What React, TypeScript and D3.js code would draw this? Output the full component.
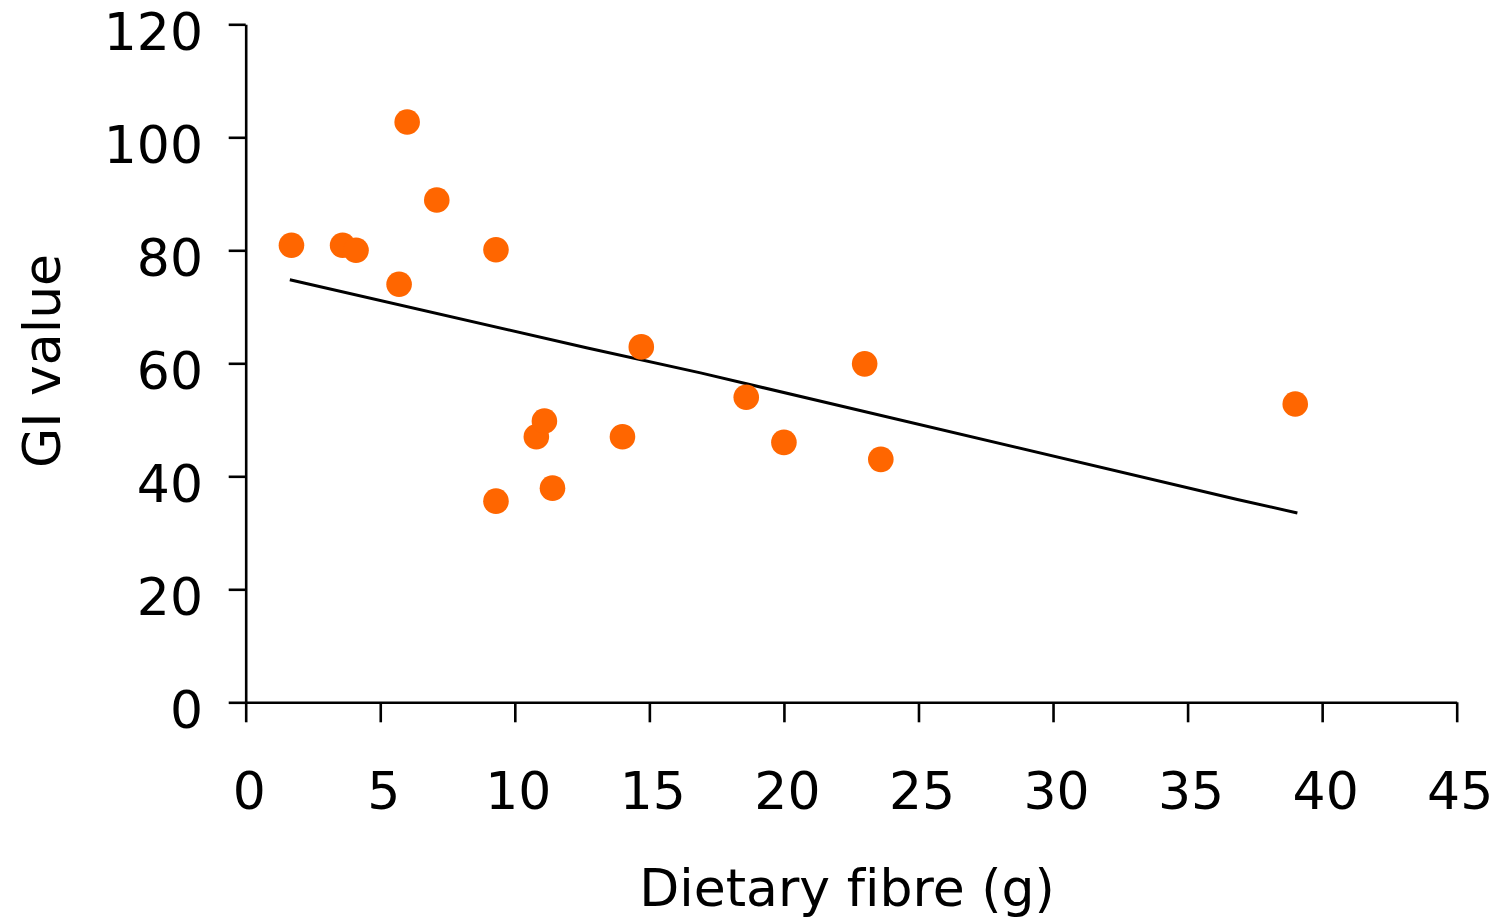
import { useEffect, useRef } from "react";
import * as d3 from "d3";

// fibre (g) per food and its GI value
const fibre = [1.7, 3.6, 4.1, 5.7, 6.0, 7.1, 9.3, 9.3, 10.8, 11.1, 11.4, 14.0, 14.7, 18.6, 20.0, 23.0, 23.6, 39.0];
const giValue = [80.9, 80.9, 80.0, 74.0, 102.7, 88.9, 80.1, 35.6, 47.0, 49.8, 37.9, 47.0, 62.9, 54.0, 46.0, 59.9, 43.0, 52.8];

// fitted line as drawn (polyline)
const trendX = [1.64, 12.7, 16.9, 36.85, 39.08];
const trendY = [74.8, 62.7, 58.3, 35.9, 33.5];

const xTicks = [0, 5, 10, 15, 20, 25, 30, 35, 40, 45];
const yTicks = [0, 20, 40, 60, 80, 100, 120];

const FONT = "Verdana, 'DejaVu Sans', sans-serif";

const App = () => {
  const svgRef = useRef<SVGSVGElement>(null);

  useEffect(() => {
    const svg = d3.select(svgRef.current);
    const width = 1499;
    const height = 917;
    const left = 245.7;
    const right = 1456.7;
    const top = 24.3;
    const bottom = 702.3;

    svg.selectAll("*").remove();
    svg.attr("width", width).attr("height", height);

    const x = d3.scaleLinear().domain([0, 45]).range([left, right]);
    const y = d3.scaleLinear().domain([0, 120]).range([bottom, top]);

    // Eixo X
    const gx = svg
      .append("g")
      .attr("transform", `translate(0,${bottom})`)
      .call(d3.axisBottom(x).tickValues(xTicks).tickSize(20).tickSizeOuter(0));
    gx.selectAll("path, line").attr("stroke", "#000").attr("stroke-width", 2.6);
    gx.selectAll("text")
      .attr("y", 107)
      .attr("dy", 0)
      .attr("x", 3)
      .attr("fill", "#000")
      .attr("font-family", FONT)
      .attr("font-size", 52);

    // Eixo Y
    const gy = svg
      .append("g")
      .attr("transform", `translate(${left},0)`)
      .call(d3.axisLeft(y).tickValues(yTicks).tickSize(17).tickSizeOuter(0));
    gy.selectAll("path, line").attr("stroke", "#000").attr("stroke-width", 2.6);
    gy.selectAll("text")
      .attr("x", 203 - left)
      .attr("dy", 0)
      .attr("y", 25)
      .attr("fill", "#000")
      .attr("font-family", FONT)
      .attr("font-size", 52);

    svg.selectAll(".domain").attr("fill", "none");

    // titles
    svg
      .append("text")
      .attr("x", 847)
      .attr("y", 906)
      .attr("text-anchor", "middle")
      .attr("font-family", FONT)
      .attr("font-size", 52)
      .attr("fill", "#000")
      .style("font-variant-ligatures", "none")
      .text("Dietary fibre (g)");

    svg
      .append("text")
      .attr("transform", "translate(60,361) rotate(-90)")
      .attr("text-anchor", "middle")
      .attr("font-family", FONT)
      .attr("font-size", 52)
      .attr("fill", "#000")
      .text("GI value");

    // trend line
    svg
      .append("path")
      .datum(trendX.map((d, i) => [d, trendY[i]] as [number, number]))
      .attr("fill", "none")
      .attr("stroke", "#000")
      .attr("stroke-width", 3)
      .attr("stroke-linejoin", "round")
      .attr(
        "d",
        d3
          .line<[number, number]>()
          .x((d) => x(d[0]))
          .y((d) => y(d[1]))
      );

    // points
    svg
      .selectAll(".dot")
      .data(fibre)
      .enter()
      .append("circle")
      .attr("class", "dot")
      .attr("cx", (d) => x(d))
      .attr("cy", (d, i) => y(giValue[i]))
      .attr("r", 12.8)
      .attr("fill", "#FF6600");
  }, []);

  return (
    <svg
      ref={svgRef}
      width={1499}
      height={917}
      style={{ position: "absolute", left: 0, top: 0, background: "#fff" }}
    ></svg>
  );
};

export default App;
